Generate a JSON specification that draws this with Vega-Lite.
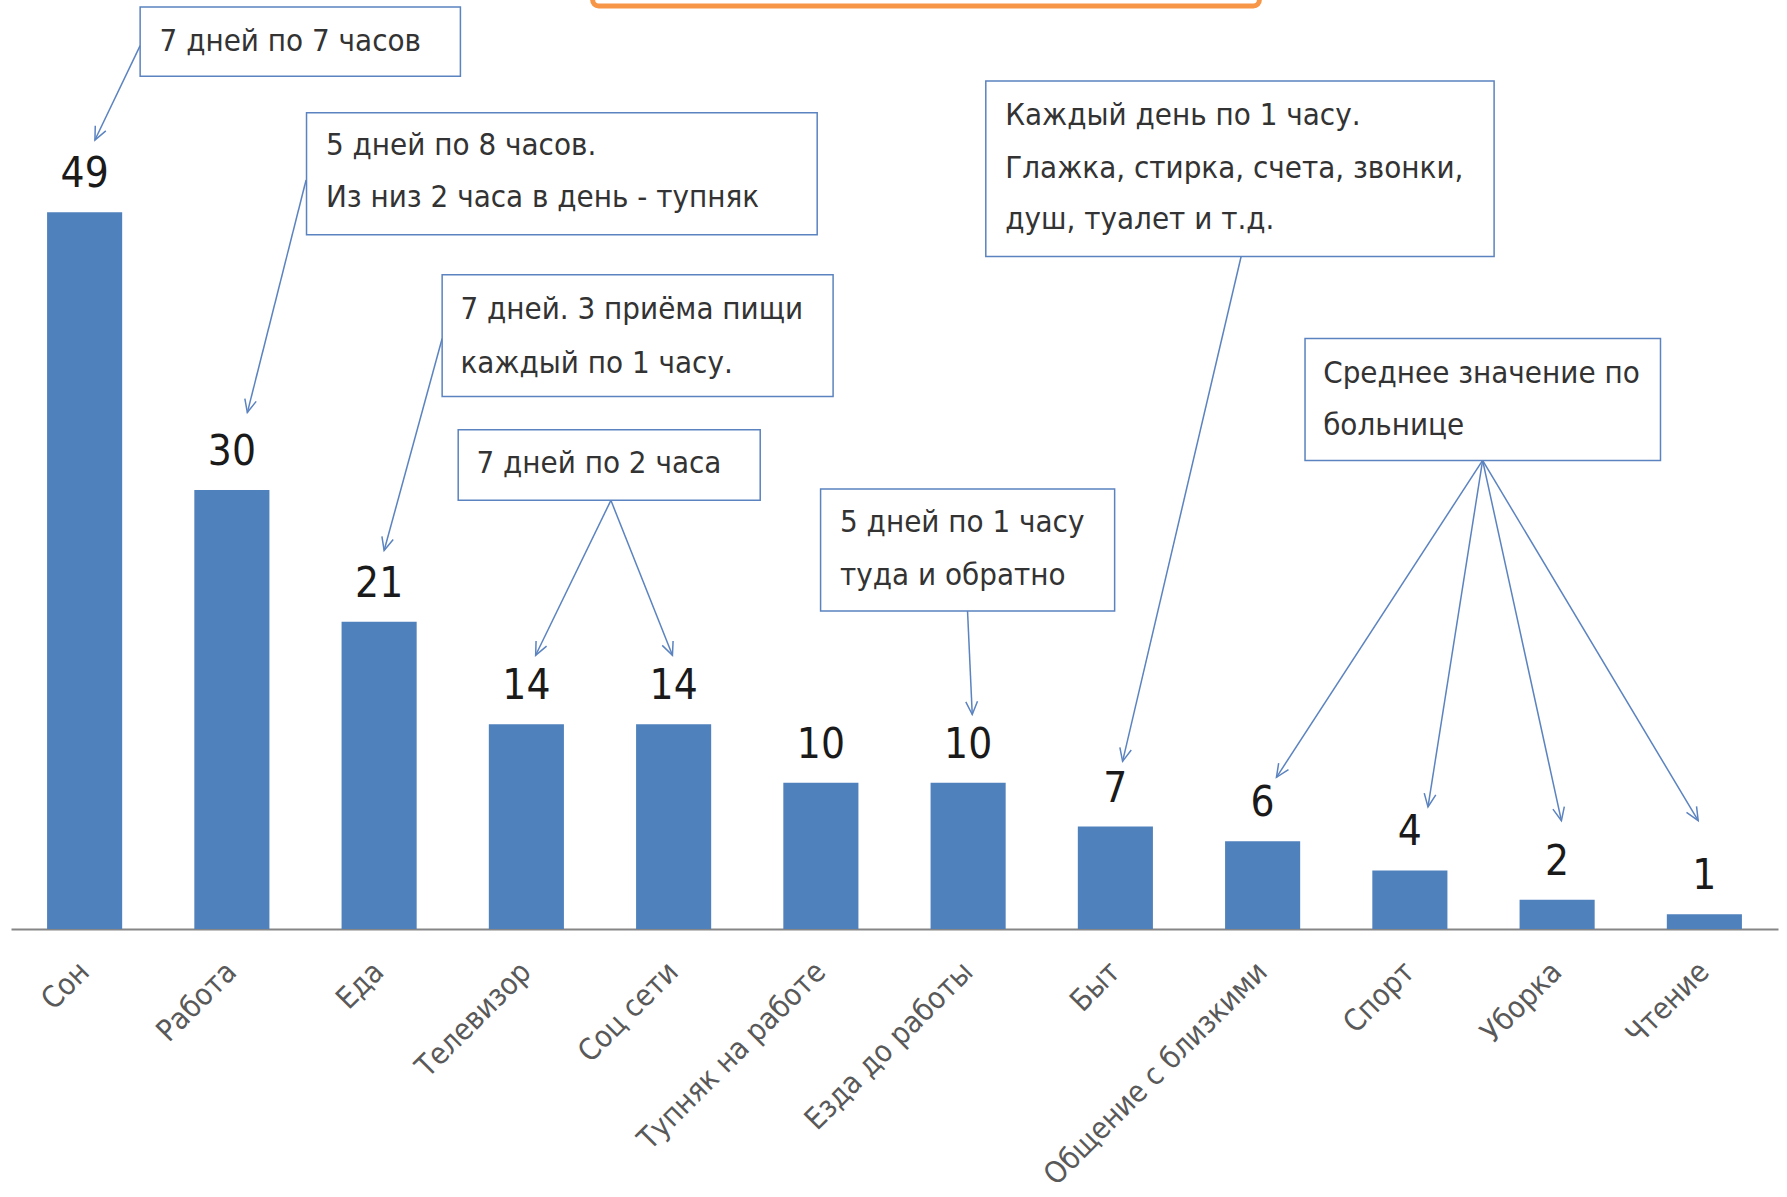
{
  "$schema": "https://vega.github.io/schema/vega-lite/v6.json",
  "width": 1767,
  "height": 929,
  "autosize": {"type": "none"},
  "padding": {"left": 11, "top": 0, "right": 9, "bottom": 268},
  "background": "white",
  "config": {
    "view": {"stroke": null},
    "font": "DejaVu Sans Condensed, sans-serif"
  },
  "datasets": {
    "bars": [
      {"cat": "Сон", "hours": 49},
      {"cat": "Работа", "hours": 30},
      {"cat": "Еда", "hours": 21},
      {"cat": "Телевизор", "hours": 14},
      {"cat": "Соц сети", "hours": 14},
      {"cat": "Тупняк на работе", "hours": 10},
      {"cat": "Езда до работы", "hours": 10},
      {"cat": "Быт", "hours": 7},
      {"cat": "Общение с близкими", "hours": 6},
      {"cat": "Спорт", "hours": 4},
      {"cat": "Уборка", "hours": 2},
      {"cat": "Чтение", "hours": 1}
    ],
    "boxes": [
      {"c1": 0.877, "c2": 3.052, "v1": 58.28, "v2": 63.03},
      {"c1": 2.007, "c2": 5.475, "v1": 47.45, "v2": 55.79},
      {"c1": 2.928, "c2": 5.583, "v1": 36.39, "v2": 44.72},
      {"c1": 3.037, "c2": 5.088, "v1": 29.30, "v2": 34.13},
      {"c1": 5.498, "c2": 7.495, "v1": 21.74, "v2": 30.08},
      {"c1": 6.620, "c2": 10.072, "v1": 45.97, "v2": 57.97},
      {"c1": 8.788, "c2": 11.202, "v1": 32.03, "v2": 40.36}
    ],
    "notes": [
      {"c": 1.009, "v": 60.62, "t": "7 дней  по  7 часов"},
      {"c": 2.139, "v": 53.53, "t": "5 дней  по  8 часов."},
      {"c": 2.139, "v": 49.94, "t": "Из низ  2 часа  в  день  -  тупняк"},
      {"c": 3.052, "v": 42.31, "t": "7 дней.  3 приёма  пищи"},
      {"c": 3.052, "v": 38.65, "t": "каждый  по  1 часу."},
      {"c": 3.161, "v": 31.79, "t": "7 дней  по  2 часа"},
      {"c": 5.630, "v": 27.74, "t": "5 дней  по  1 часу"},
      {"c": 5.630, "v": 24.16, "t": "туда  и  обратно"},
      {"c": 6.752, "v": 55.56, "t": "Каждый  день  по  1 часу."},
      {"c": 6.752, "v": 51.97, "t": "Глажка,  стирка,  счета,  звонки,"},
      {"c": 6.752, "v": 48.46, "t": "душ,  туалет  и  т.д."},
      {"c": 8.911, "v": 37.95, "t": "Среднее  значение  по"},
      {"c": 8.911, "v": 34.37, "t": "больнице"}
    ],
    "arrows": [
      {"c1": 0.877, "v1": 60.38, "c2": 0.570, "v2": 53.93},
      {"c1": 2.004, "v1": 51.20, "c2": 1.605, "v2": 35.30},
      {"c1": 2.928, "v1": 40.36, "c2": 2.534, "v2": 25.87},
      {"c1": 4.074, "v1": 29.30, "c2": 3.563, "v2": 18.71},
      {"c1": 4.074, "v1": 29.30, "c2": 4.492, "v2": 18.71},
      {"c1": 6.496, "v1": 21.74, "c2": 6.528, "v2": 14.66},
      {"c1": 8.354, "v1": 45.97, "c2": 7.549, "v2": 11.46},
      {"c1": 9.994, "v1": 32.03, "c2": 8.594, "v2": 10.37},
      {"c1": 9.994, "v1": 32.03, "c2": 9.623, "v2": 8.35},
      {"c1": 9.994, "v1": 32.03, "c2": 10.529, "v2": 7.41},
      {"c1": 9.994, "v1": 32.03, "c2": 11.458, "v2": 7.41}
    ],
    "frame": [
      {"c1": 3.950, "c2": 8.478, "v1": 63.09, "v2": 70}
    ]
  },
  "resolve": {"scale": {"x": "independent"}},
  "layer": [
    {
      "data": {"name": "bars"},
      "encoding": {
        "x": {
          "field": "cat",
          "type": "nominal",
          "sort": null,
          "scale": {"paddingInner": 0.49, "paddingOuter": 0.245},
          "axis": {
            "title": null,
            "ticks": false,
            "domainColor": "#868686",
            "domainWidth": 2,
            "labelAngle": -45,
            "labelAlign": "right",
            "labelBaseline": "middle",
            "labelPadding": 38,
            "labelFontSize": 30,
            "labelColor": "#595959",
            "labelLimit": 0,
            "labelOverlap": false,
            "labelFont": "DejaVu Sans Condensed, sans-serif"
          }
        },
        "y": {
          "field": "hours",
          "type": "quantitative",
          "scale": {"domain": [0, 63.5], "nice": false, "zero": true},
          "axis": null
        }
      },
      "layer": [
        {"mark": {"type": "bar", "color": "#4F81BD"}},
        {
          "mark": {"type": "text", "baseline": "alphabetic", "dy": -25, "fontSize": 42, "color": "#1a1a1a", "font": "DejaVu Sans Condensed, sans-serif"},
          "encoding": {"text": {"field": "hours", "type": "quantitative"}}
        }
      ]
    },
    {
      "layer": [
        {
          "data": {"name": "arrows"},
          "mark": {"type": "rule", "color": "#5B83C0", "strokeWidth": 1.5},
          "encoding": {
            "x": {"field": "c1", "type": "quantitative", "scale": {"domain": [0, 12], "nice": false, "zero": false}, "axis": null},
            "y": {"field": "v1", "type": "quantitative"},
            "x2": {"field": "c2"},
            "y2": {"field": "v2"}
          }
        },
        {
          "data": {"name": "boxes"},
          "mark": {"type": "rect", "fill": "white", "stroke": "#5B83C0", "strokeWidth": 1.5},
          "encoding": {
            "x": {"field": "c1", "type": "quantitative", "scale": {"domain": [0, 12], "nice": false, "zero": false}, "axis": null},
            "x2": {"field": "c2"},
            "y": {"field": "v1", "type": "quantitative"},
            "y2": {"field": "v2"}
          }
        },
        {
          "data": {"name": "notes"},
          "mark": {"type": "text", "align": "left", "baseline": "middle", "fontSize": 31, "color": "#333333", "font": "DejaVu Sans Condensed, sans-serif"},
          "encoding": {
            "x": {"field": "c", "type": "quantitative", "scale": {"domain": [0, 12], "nice": false, "zero": false}, "axis": null},
            "y": {"field": "v", "type": "quantitative"},
            "text": {"field": "t"}
          }
        },
        {
          "data": {"name": "arrows"},
          "transform": [
            {"calculate": "atan2((datum.c2 - datum.c1) * 147.25, (datum.v2 - datum.v1) * 14.63) * 180 / PI", "as": "ang"}
          ],
          "mark": {"type": "point", "shape": "M-0.45,1L0,0L0.45,1", "filled": false, "color": "#5B83C0", "strokeWidth": 1.5, "opacity": 1, "size": 676},
          "encoding": {
            "x": {"field": "c2", "type": "quantitative", "scale": {"domain": [0, 12], "nice": false, "zero": false}, "axis": null},
            "y": {"field": "v2", "type": "quantitative"},
            "angle": {"field": "ang", "type": "quantitative", "scale": null}
          }
        },
        {
          "data": {"name": "frame"},
          "mark": {"type": "rect", "fill": null, "stroke": "#F79646", "strokeWidth": 5, "cornerRadius": 6},
          "encoding": {
            "x": {"field": "c1", "type": "quantitative", "scale": {"domain": [0, 12], "nice": false, "zero": false}, "axis": null},
            "x2": {"field": "c2"},
            "y": {"field": "v1", "type": "quantitative"},
            "y2": {"field": "v2"}
          }
        }
      ]
    }
  ]
}
